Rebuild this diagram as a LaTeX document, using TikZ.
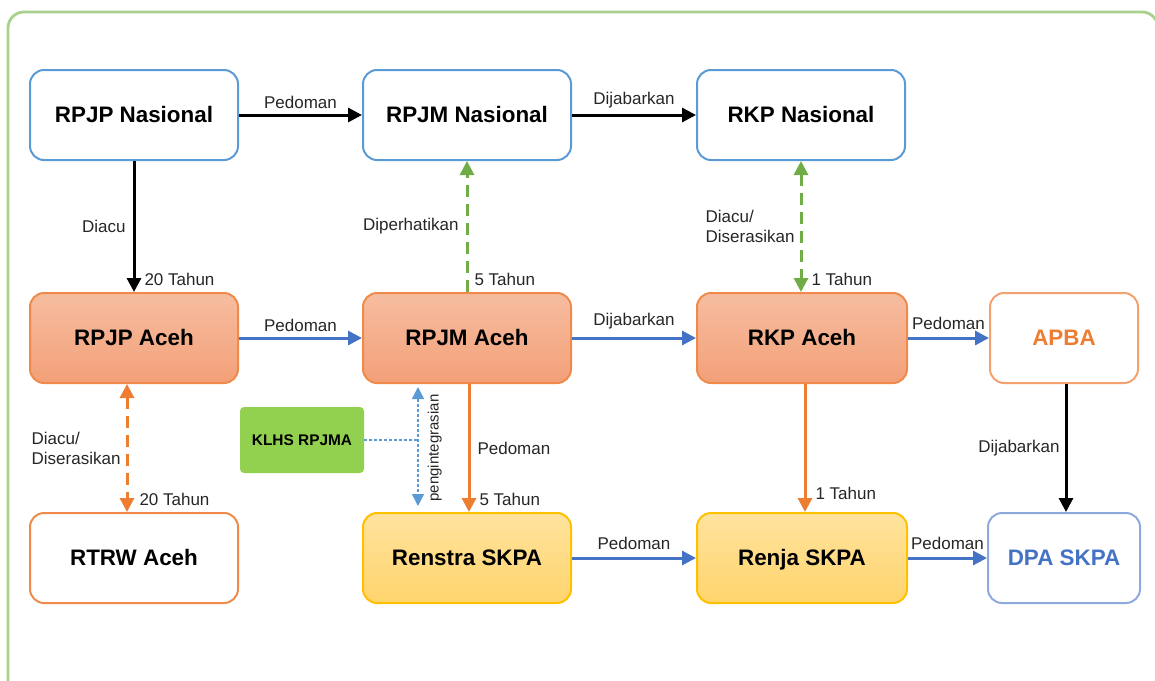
\documentclass[tikz,border=0pt]{standalone}
\usepackage{fontspec}
\setmainfont{Liberation Sans}
\usetikzlibrary{arrows.meta}
\definecolor{bboxc}{HTML}{5B9BD5}
\definecolor{oborder}{HTML}{F08A4B}
\definecolor{otop}{HTML}{F6BDA0}
\definecolor{obot}{HTML}{F3A078}
\definecolor{ytop}{HTML}{FFE39E}
\definecolor{ybot}{HTML}{FFD46C}
\definecolor{yborder}{HTML}{FFC000}
\definecolor{arrblue}{HTML}{4472C4}
\definecolor{arrorange}{HTML}{ED7D31}
\definecolor{arrgreen}{HTML}{70AD47}
\definecolor{klhsgreen}{HTML}{92D050}
\definecolor{framegreen}{HTML}{A9D18E}
\definecolor{dpablue}{HTML}{8EA9DB}
\definecolor{dotblue}{HTML}{5B9BD5}
\tikzset{
  nbox/.style={rounded corners=7pt, minimum width=104pt, minimum height=45pt, line width=1pt, font=\bfseries\fontsize{11.2}{13}\selectfont, align=center, text height=8pt, text depth=1pt},
  bluebox/.style={nbox, draw=bboxc, fill=white},
  orbox/.style={nbox, draw=oborder, top color=otop, bottom color=obot},
  yelbox/.style={nbox, draw=yborder, top color=ytop, bottom color=ybot},
  whiteor/.style={nbox, draw=oborder, fill=white},
  lbl/.style={font=\fontsize{8.5}{10}\selectfont, text=black!85, inner sep=1.5pt},
  conn/.style={line width=1.5pt, -{Triangle[length=7pt,width=7pt]}},
  dconn/.style={line width=1.5pt, {Triangle[length=7pt,width=7pt]}-{Triangle[length=7pt,width=7pt]}, dash pattern=on 6pt off 3.5pt}
}
\begin{document}
\begin{tikzpicture}[x=0.5pt,y=-0.5pt]
\useasboundingbox (0,0) rectangle (1155,680);
% frame
\draw[framegreen, line width=1.4pt, rounded corners=8pt] (8,700) -- (8,12) -- (1158,12) -- (1158,700);

% nodes
\node[bluebox] (rpjpn) at (134,115) {RPJP Nasional};
\node[bluebox] (rpjmn) at (467,115) {RPJM Nasional};
\node[bluebox] (rkpn) at (801,115) {RKP Nasional};
\node[orbox] (rpjpa) at (134,338) {RPJP Aceh};
\node[orbox] (rpjma) at (467,338) {RPJM Aceh};
\node[orbox, minimum width=105pt] (rkpa) at (802,338) {RKP Aceh};
\node[whiteor, minimum width=74pt, draw=oborder!80, text=arrorange] (apba) at (1064,338) {APBA};
\node[whiteor] (rtrw) at (134,558) {RTRW Aceh};
\node[yelbox] (renstra) at (467,558) {Renstra SKPA};
\node[yelbox, minimum width=105pt] (renja) at (802,558) {Renja SKPA};
\node[nbox, minimum width=76pt, draw=dpablue, fill=white, text=arrblue] (dpa) at (1064,558) {DPA SKPA};
\node[fill=klhsgreen, rounded corners=2pt, minimum width=62pt, minimum height=33pt, font=\bfseries\fontsize{7.7}{9}\selectfont] (klhs) at (302,440) {KLHS RPJMA};

% top row
\draw[conn, black] (rpjpn.east) -- node[lbl, above=1pt] {Pedoman} (rpjmn.west);
\draw[conn, black] (rpjmn.east) -- node[lbl, above=1pt] {Dijabarkan} (rkpn.west);
% middle row
\draw[conn, arrblue] (rpjpa.east) -- node[lbl, above=1pt] {Pedoman} (rpjma.west);
\draw[conn, arrblue] (rpjma.east) -- node[lbl, above=2pt] {Dijabarkan} (rkpa.west);
\draw[conn, arrblue] (rkpa.east) -- node[lbl, above=2pt] {Pedoman} (apba.west);
% bottom row
\draw[conn, arrblue] (renstra.east) -- node[lbl, above=2pt] {Pedoman} (renja.west);
\draw[conn, arrblue] (renja.east) -- node[lbl, above=2pt] {Pedoman} (dpa.west);

% verticals
\draw[conn, black] (rpjpn.south) -- node[lbl, left=2pt] {Diacu} node[lbl, pos=1, anchor=south west, xshift=3pt, yshift=1pt] {20 Tahun} (rpjpa.north);
\draw[conn, arrgreen, dash pattern=on 6pt off 3.5pt] (rpjma.north) -- node[lbl, left=2pt] {Diperhatikan} node[lbl, pos=0, anchor=south west, xshift=1.5pt, yshift=1pt] {5 Tahun} (rpjmn.south);
\draw[dconn, arrgreen] (rkpn.south) -- node[lbl, left=1pt, align=left] {Diacu/\\Diserasikan} node[lbl, pos=1, anchor=south west, xshift=3pt, yshift=1pt] {1 Tahun} (rkpa.north -| rkpn.south);
\draw[dconn, arrorange] ([xshift=-3.5pt]rpjpa.south) -- node[lbl, left=1pt, align=left] {Diacu/\\Diserasikan} node[lbl, pos=1, anchor=south west, xshift=4pt, yshift=1pt] {20 Tahun} ([xshift=-3.5pt]rtrw.north);
\draw[conn, arrorange] ([xshift=1pt]rpjma.south) -- node[lbl, right=2pt] {Pedoman} node[lbl, pos=1, anchor=south west, xshift=3pt, yshift=1pt] {5 Tahun} ([xshift=1pt]renstra.north);
\draw[conn, arrorange] ([xshift=1.5pt]rkpa.south) -- node[lbl, pos=1, anchor=south west, xshift=3pt, yshift=4pt] {1 Tahun} ([xshift=1.5pt]renja.north);
\draw[conn, black] ([xshift=1pt]apba.south) -- node[lbl, left=1pt] {Dijabarkan} ([xshift=1pt]dpa.north);

% KLHS
\coordinate (kx) at (418,440);
\draw[dotblue, line width=0.7pt, dash pattern=on 1.5pt off 1pt] (klhs.east) -- (kx);
\draw[dotblue, line width=0.7pt, dash pattern=on 1.5pt off 1pt, {Triangle[length=6pt,width=6pt]}-{Triangle[length=6pt,width=6pt]}, shorten <=1.5pt, shorten >=3pt] (kx |- rpjma.south) -- node[lbl, rotate=90, anchor=north, yshift=-3pt, xshift=0pt, font=\fontsize{7.5}{9}\selectfont] {pengintegrasian} (kx |- renstra.north);
\end{tikzpicture}
\end{document}
